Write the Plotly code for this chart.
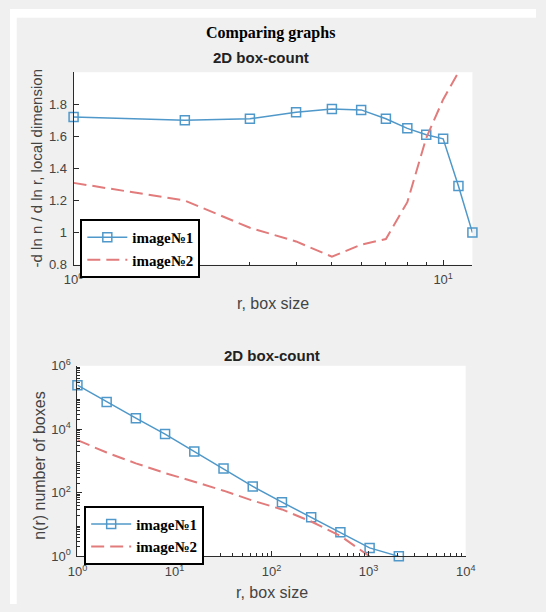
import plotly.graph_objects as go

# ---- data ----
r_local = [1, 2, 3, 4, 5, 6, 7, 8, 9, 10, 11, 12]
dim_img1 = [1.72, 1.70, 1.71, 1.75, 1.77, 1.765, 1.71, 1.65, 1.61, 1.585, 1.29, 1.0]
r_local2 = [1, 2, 3, 4, 5, 6, 7, 8, 9, 10, 11]
dim_img2 = [1.31, 1.20, 1.03, 0.945, 0.85, 0.925, 0.96, 1.19, 1.59, 1.83, 2.0]

r_box = [1, 2, 4, 8, 16, 32, 64, 128, 256, 512, 1024, 2048]
n_img1 = [246000, 73000, 22500, 7100, 2000, 580, 159, 51, 17, 5.7, 1.85, 1.0]
r_box2 = [1, 2, 4, 8, 16, 32, 64, 128, 256, 512, 1024]
n_img2 = [4570, 1860, 850, 420, 224, 117, 57, 30, 12.5, 4.4, 1.0]

top_ytick_vals = [0.8, 1.0, 1.2, 1.4, 1.6, 1.8]
top_ytick_text = ["0.8", "1", "1.2", "1.4", "1.6", "1.8"]
top_xtick_vals = [1, 10]
top_xtick_text = ["10<sup>0</sup>", "10<sup>1</sup>"]
bot_xtick_vals = [1, 10, 100, 1000, 10000]
bot_xtick_text = ["10<sup>0</sup>", "10<sup>1</sup>", "10<sup>2</sup>", "10<sup>3</sup>", "10<sup>4</sup>"]
bot_ytick_vals = [1, 100, 10000, 1000000]
bot_ytick_text = ["10<sup>0</sup>", "10<sup>2</sup>", "10<sup>4</sup>", "10<sup>6</sup>"]

names = ["image№1", "image№2"]

W, H = 546, 612
BLUE = "#4f98c9"
RED = "#e27b7b"
AX = "#2b2b2b"
TXT = "#444444"

def px(x):
    return x / W

def py(y):
    return 1 - y / H

def minors(decades):
    return [m * 10 ** d for d in range(decades) for m in range(2, 10)]

fig = go.Figure()

fig.add_trace(go.Scatter(x=r_local, y=dim_img1, mode="lines+markers", name=names[0],
                         line=dict(color=BLUE, width=1.5),
                         marker=dict(symbol="square-open", size=9, color=BLUE, line=dict(width=1.5)),
                         xaxis="x", yaxis="y", legend="legend", cliponaxis=False))
fig.add_trace(go.Scatter(x=r_local2, y=dim_img2, mode="lines", name=names[1],
                         line=dict(color=RED, width=2, dash="13px,6px"),
                         xaxis="x", yaxis="y", legend="legend"))
fig.add_trace(go.Scatter(x=r_box, y=n_img1, mode="lines+markers", name=names[0],
                         line=dict(color=BLUE, width=1.5),
                         marker=dict(symbol="square-open", size=9, color=BLUE, line=dict(width=1.5)),
                         xaxis="x2", yaxis="y2", legend="legend2", cliponaxis=False))
fig.add_trace(go.Scatter(x=r_box2, y=n_img2, mode="lines", name=names[1],
                         line=dict(color=RED, width=2, dash="13px,6px"),
                         xaxis="x2", yaxis="y2", legend="legend2"))

axis_common = dict(showline=True, linecolor=AX, linewidth=1, mirror=False,
                   ticks="inside", tickcolor=AX, ticklen=5, showgrid=False, zeroline=False,
                   ticklabelstandoff=3,
                   tickfont=dict(family="Liberation Sans, Arial", size=13, color=TXT))

legend_common = dict(bgcolor="white", bordercolor="black", borderwidth=2,
                     font=dict(family="Liberation Serif, Times New Roman", size=15, color="black", weight="bold"),
                     xanchor="left", yanchor="top", tracegroupgap=0, itemwidth=40)

fig.update_layout(
    width=W, height=H,
    margin=dict(l=0, r=0, t=0, b=0),
    paper_bgcolor="#f0f0f0", plot_bgcolor="white",
    showlegend=True,
    xaxis=dict(type="log", domain=[px(66), px(480)], range=[0, 1.0792], anchor="y",
               tickmode="array", tickvals=top_xtick_vals, ticktext=top_xtick_text,
               minor=dict(tickmode="array", tickvals=minors(1), ticks="inside", ticklen=3, tickcolor=AX),
               **axis_common),
    yaxis=dict(domain=[py(263), py(65)], range=[0.8, 2.0], anchor="x",
               tickmode="array", tickvals=top_ytick_vals, ticktext=top_ytick_text,
               **axis_common),
    xaxis2=dict(type="log", domain=[px(70), px(473)], range=[0, 4], anchor="y2",
                tickmode="array", tickvals=bot_xtick_vals, ticktext=bot_xtick_text,
                minor=dict(tickmode="array", tickvals=minors(4), ticks="inside", ticklen=3, tickcolor=AX),
                **axis_common),
    yaxis2=dict(type="log", domain=[py(563), py(367)], range=[0, 6], anchor="x2",
                tickmode="array", tickvals=bot_ytick_vals, ticktext=bot_ytick_text,
                minor=dict(tickmode="array", tickvals=minors(6), ticks="inside", ticklen=3, tickcolor=AX),
                **axis_common),
    legend=dict(x=px(73), y=py(216), **legend_common),
    legend2=dict(x=px(77), y=py(511), **legend_common),
)

# white border strips at top and left of the picture
fig.add_shape(type="rect", xref="paper", yref="paper", x0=0, x1=1, y0=py(9), y1=1,
              fillcolor="white", line=dict(width=0), layer="below")
fig.add_shape(type="rect", xref="paper", yref="paper", x0=0, x1=px(7), y0=0, y1=1,
              fillcolor="white", line=dict(width=0), layer="below")

def ann(text, x, y, size, family, color, bold=False, angle=0):
    fig.add_annotation(text=(f"<b>{text}</b>" if bold else text), x=px(x), y=py(y),
                       xref="paper", yref="paper", showarrow=False, textangle=angle,
                       xanchor="center", yanchor="middle",
                       font=dict(size=size, family=family, color=color))

ann("Comparing graphs", 270, 25, 16, "Liberation Serif, Times New Roman", "black", bold=True)
ann("2D box-count", 261, 50, 15, "Liberation Sans, Arial", "#222222", bold=True)
ann("2D box-count", 272, 356, 15, "Liberation Sans, Arial", "#222222", bold=True)
ann("r, box size", 273, 303, 16, "Liberation Sans, Arial", TXT)
ann("r, box size", 272, 600, 16, "Liberation Sans, Arial", TXT)
ann("-d ln n / d ln r, local dimension", 27, 164, 15, "Liberation Sans, Arial", TXT, angle=-90)
ann("n(r) number of boxes", 31, 469, 16, "Liberation Sans, Arial", TXT, angle=-90)

fig.write_html("out.html", config={"displayModeBar": False},
               post_script="document.body.style.margin='0';document.body.style.overflow='hidden';")
